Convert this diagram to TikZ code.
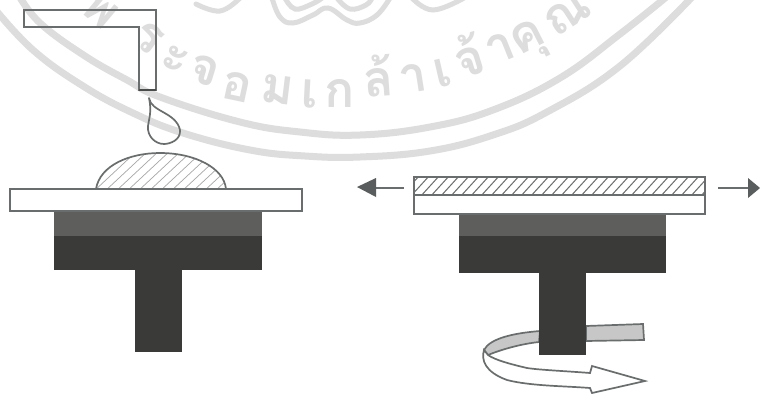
\documentclass[tikz,border=0pt]{standalone}
\usepackage{fontspec}
\newfontfamily\thaifont[Script=Thai]{Loma}[BoldFont={Loma Bold}]
\definecolor{wm}{HTML}{DDDDDD}
\definecolor{ink}{HTML}{6A6D6D}
\definecolor{darkblock}{HTML}{3A3A38}
\definecolor{midblock}{HTML}{5E5E5C}
\tikzset{
  wmband/.style={wm,line width=7pt},
  wmcurl/.style={wm,line width=5pt,line cap=round},
  wmtext/.style={text=wm,font=\thaifont\bfseries\fontsize{50}{50}\selectfont,inner sep=0pt},
  outline/.style={draw=ink,line width=1.7pt,line join=miter},
  hatchline/.style={draw=ink!60,line width=.7pt},
  blockdark/.style={fill=darkblock,draw=none},
  blockmid/.style={fill=midblock,draw=none},
}
\begin{document}
\begin{tikzpicture}[x=1pt,y=-1pt]
\useasboundingbox (0,0) rectangle (760,394);
\begin{scope}
\clip (0,0) rectangle (760,394);
\fill[white] (0,0) rectangle (760,394);
% watermark
\draw[wmband] plot[smooth,tension=.7] coordinates {(18,-6) (40,23) (85,56) (127,80) (160,97) (240,122) (300,132) (360,135) (430,127) (493,110) (560,78) (620,34) (670,-6)};
\draw[wmband] plot[smooth,tension=.7] coordinates {(-6,8) (33,50) (83,86) (133,113) (183,133) (250,150) (305,156) (360,157) (430,151) (493,135) (547,112) (620,66) (695,-6)};
\draw[wmcurl] plot[smooth,tension=.7] coordinates {(196,4) (220,11) (240,-2)};
\draw[wmcurl] plot[smooth,tension=.7] coordinates {(272,-2) (280,17) (293,23) (313,15) (328,8) (347,20) (360,23) (377,15) (390,-2)};
\draw[wmcurl] plot[smooth,tension=.7] coordinates {(285,-2) (295,9) (312,4) (322,-2)};
\draw[wmcurl] plot[smooth,tension=.7] coordinates {(337,-2) (350,9) (366,5) (372,-2)};
\draw[wmcurl] plot[smooth,tension=.7] coordinates {(412,-2) (433,10) (464,-2)};
\node[wmtext,rotate=-40] (t1) at (100,10) {พ};
\node[wmtext,rotate=-35] (t2) at (148,38) {ร};
\node[wmtext,rotate=-25] (t3) at (175,60) {ะ};
\node[wmtext,rotate=-17] (t4) at (205,70) {จ};
\node[wmtext,rotate=-12] (t5) at (237,87) {อ};
\node[wmtext,rotate=-7] (t6) at (278,90) {ม};
\node[wmtext,rotate=-3] (t7) at (310,94) {เ};
\node[wmtext,rotate=0] (t8) at (340,93) {ก};
\node[wmtext,rotate=4] (t9) at (378,76) {ล้};
\node[wmtext,rotate=9] (t10) at (413,78) {า};
\node[wmtext,rotate=13] (t11) at (443,73) {เ};
\node[wmtext,rotate=17] (t12) at (468,55) {จ้};
\node[wmtext,rotate=22] (t13) at (500,48) {า};
\node[wmtext,rotate=27] (t14) at (530,42) {คุ};
\node[wmtext,rotate=33] (t15) at (567,14) {ณ};
\end{scope}
% left: nozzle
\draw[outline] (24,10) -- (156,10) -- (156,90) -- (139,90) -- (139,27) -- (24,27) -- cycle;
\draw[ink!70!black,line width=2pt] (139,90) -- (156,90);
% drop
\draw[outline,line join=round] (149,98) .. controls (151,112) and (176,112) .. (180,130) .. controls (181,140) and (170,144) .. (164,144) .. controls (155,144) and (147,136) .. (148,126) .. controls (149,118) and (152,112) .. (149,98) -- cycle;
% bead
\begin{scope}
\clip (96,189) .. controls (100,165) and (130,153) .. (160,153) .. controls (195,153) and (224,168) .. (226,189) -- cycle;
\foreach \x in {60,71,...,260}{\draw[hatchline] (\x,192) -- (\x+45,150);}
\end{scope}
\draw[outline] (96,189) .. controls (100,165) and (130,153) .. (160,153) .. controls (195,153) and (224,168) .. (226,189);
% left stage
\fill[blockdark] (135,265) rectangle (182,352);
\fill[blockdark] (54,236) rectangle (262,270);
\fill[blockmid] (54,209) rectangle (262,236);
\draw[outline,fill=white] (10,189) rectangle (302,211);
% right stage
\fill[blockdark] (539,268) rectangle (586,355);
\fill[blockdark] (459,236) rectangle (666,273);
\fill[blockmid] (459,213) rectangle (666,236);
\begin{scope}
\clip (414,177) rectangle (705,195);
\foreach \x in {400,410,...,710}{\draw[draw=ink,line width=1pt] (\x,197) -- (\x+20,175);}
\end{scope}
\draw[outline] (414,177) rectangle (705,195);
\draw[outline,fill=white] (414,195) rectangle (705,214);
% ribbon behind the shaft
\draw[outline,fill=black!22] (586,326) -- (643,324) -- (644,340) -- (586,341) -- cycle;
\draw[outline,fill=black!22] (540,331) .. controls (515,333) and (490,338) .. (484,350) -- (488,355) .. controls (500,350) and (520,344) .. (539,342) -- cycle;
\fill[darkblock] (539,320) rectangle (586,355);
% front arrow
\draw[outline,fill=white] (484,350) .. controls (481,360) and (485,372) .. (507,380) .. controls (530,386) and (565,386) .. (590,388) -- (592,393) -- (645,381) -- (592,366) -- (590,373) .. controls (565,371) and (540,370) .. (527,368) .. controls (510,364) and (495,360) .. (488,355) -- cycle;
% pull arrows
\coordinate (la) at (404,188);
\coordinate (lb) at (376,188);
\coordinate (ra) at (718,188);
\coordinate (rb) at (748,188);
\draw[ink,line width=1.5pt] (la) -- (lb);
\draw[ink,line width=1.5pt] (ra) -- (rb);
\fill[ink!85!black] (357,187) -- (376,178) -- (376,197) -- cycle;
\fill[ink!85!black] (760,188) -- (748,178) -- (748,198) -- cycle;
\end{tikzpicture}
\end{document}
